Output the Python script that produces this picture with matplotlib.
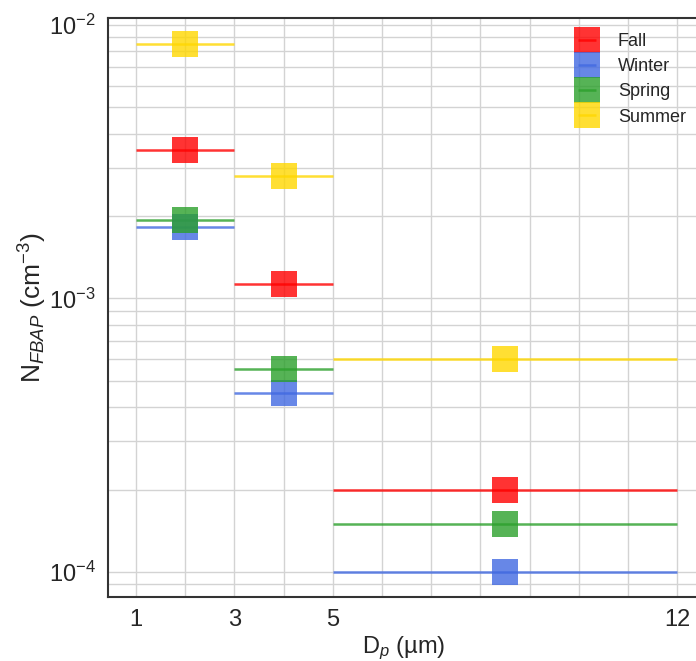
import matplotlib
matplotlib.use("Agg")
import matplotlib.pyplot as plt
import numpy as np
from matplotlib.ticker import FixedLocator, LogLocator, NullFormatter

seasons = ["Fall", "Winter", "Spring", "Summer"]
colors = ["red", "royalblue", "#2ca02c", "gold"]
bin_edges = [1, 3, 5, 12]
bin_centers = [2, 4, 8.5]
bin_halfwidths = [1, 1, 3.5]
values = {
    "Fall":   [3.5e-3, 1.13e-3, 2.0e-4],
    "Winter": [1.82e-3, 4.5e-4, 1.0e-4],
    "Spring": [1.94e-3, 5.5e-4, 1.5e-4],
    "Summer": [8.5e-3, 2.8e-3, 6.0e-4],
}
xticks = [1, 3, 5, 12]

plt.rcParams['font.family'] = ['Liberation Sans', 'DejaVu Sans']
plt.rcParams['mathtext.fontset'] = 'custom'
plt.rcParams['mathtext.rm'] = 'Liberation Sans'
plt.rcParams['mathtext.it'] = 'Liberation Sans:italic'

fig = plt.figure(figsize=(6.96, 6.61), dpi=100)
xmin, xmax = 0.43, 12.45
ax = fig.add_axes([108/696, 1-597/661, (xmax-xmin)*49.2/696, (597-18)/661])

for s, c in zip(seasons, colors):
    ax.errorbar(bin_centers, values[s], xerr=bin_halfwidths, fmt='s', color=c,
                ms=19, alpha=0.8, elinewidth=1.8, capsize=0, mew=0, label=s)

ax.set_yscale('log')
ax.set_xlim(xmin, xmax)
ax.set_ylim(8.1e-5, 1.06e-2)
ax.xaxis.set_major_locator(FixedLocator(xticks))
ax.xaxis.set_minor_locator(FixedLocator(np.arange(1, 13)))
ax.yaxis.set_major_locator(LogLocator(base=10))
ax.yaxis.set_minor_locator(LogLocator(base=10, subs=np.arange(2, 10)))
ax.yaxis.set_minor_formatter(NullFormatter())
ax.grid(True, which='both', color='#d3d3d3', linewidth=1.0)
ax.set_axisbelow(True)
ax.tick_params(which='both', length=0, labelsize=17, colors='#262626')
ax.tick_params(axis='x', pad=9)
ax.tick_params(axis='y', pad=9)

for side in ['left', 'bottom', 'top']:
    ax.spines[side].set_color('#333333')
    ax.spines[side].set_linewidth(1.5)
ax.spines['right'].set_visible(False)

ax.set_xlabel(r"D$_p$ (µm)", fontsize=17, color='#262626', labelpad=2)
ax.set_ylabel(r"N$_{FBAP}$ (cm$^{-3}$)", fontsize=19, color='#262626', labelpad=0)

leg = ax.legend(loc='upper left', bbox_to_anchor=(562/696, 1-26/661),
                bbox_transform=fig.transFigure, frameon=False,
                fontsize=13, labelspacing=0.45, handlelength=2.0, handletextpad=0.7,
                markerscale=1.0, borderaxespad=0)
for t in leg.get_texts():
    t.set_color('#262626')

fig.savefig("out.png", dpi=100)
